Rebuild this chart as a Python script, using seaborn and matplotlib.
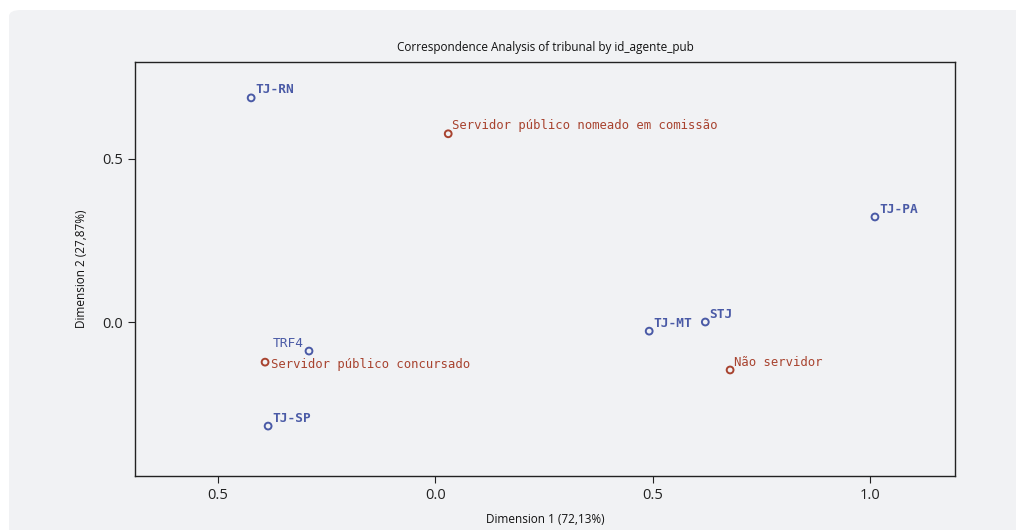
import matplotlib
matplotlib.use("Agg")
import matplotlib.pyplot as plt
import seaborn as sns
import pandas as pd
from matplotlib.patches import FancyBboxPatch

# Data
row_labels = ["TJ-RN", "TJ-PA", "TJ-MT", "STJ", "TRF4", "TJ-SP"]
row_dim1 = [-0.423, 1.011, 0.492, 0.621, -0.290, -0.384]
row_dim2 = [0.687, 0.322, -0.028, 0.000, -0.089, -0.319]

col_labels = ["Servidor público nomeado em comissão", "Não servidor", "Servidor público concursado"]
col_dim1 = [0.030, 0.678, -0.391]
col_dim2 = [0.577, -0.147, -0.123]

x_ticks = [-0.5, 0.0, 0.5, 1.0]
x_tick_labels = ["0.5", "0.0", "0.5", "1.0"]
y_ticks = [0.0, 0.5]
y_tick_labels = ["0.0", "0.5"]

BG = "#f1f2f4"
BLUE = "#4a5aa6"
RED = "#a8432f"
MONO = "DejaVu Sans Mono"

sns.set_theme(style="white")
plt.rcParams["font.family"] = ["Open Sans", "DejaVu Sans"]

df = pd.concat([
    pd.DataFrame({"label": row_labels, "d1": row_dim1, "d2": row_dim2, "kind": "row"}),
    pd.DataFrame({"label": col_labels, "d1": col_dim1, "d2": col_dim2, "kind": "col"}),
], ignore_index=True)

fig = plt.figure(figsize=(10.16, 5.30), dpi=100, facecolor="white")
panel = FancyBboxPatch((9 / 1016, -0.05), 1.2, 1 - 10 / 530 + 0.05,
                       boxstyle="round,pad=0,rounding_size=0.012",
                       transform=fig.transFigure, facecolor=BG, edgecolor="none", zorder=-10)
fig.patches.append(panel)

ax = fig.add_axes([135 / 1016, 1 - 476 / 530, (955 - 135) / 1016, (476 - 62) / 530])
ax.set_facecolor(BG)

sns.scatterplot(data=df, x="d1", y="d2", hue="kind", palette={"row": BLUE, "col": RED},
                marker="o", s=24, linewidth=1.4, legend=False, ax=ax)
for coll in ax.collections:
    fc = coll.get_facecolors()
    coll.set_edgecolors(fc)
    coll.set_facecolors("none")

ax.set_xlim(-0.69, 1.195)
ax.set_ylim(-0.472, 0.797)

for lab, x, y in zip(row_labels, row_dim1, row_dim2):
    if lab == "TRF4":
        ax.annotate(lab, (x, y), xytext=(-4, 1), textcoords="offset points", ha="right",
                    fontsize=9.3, color=BLUE, fontfamily=MONO, va="bottom")
    else:
        ax.annotate(lab, (x, y), xytext=(3, 1), textcoords="offset points",
                    fontsize=9.3, color=BLUE, fontfamily=MONO, fontweight="bold", va="bottom")
for lab, x, y in zip(col_labels, col_dim1, col_dim2):
    if lab == "Servidor público concursado":
        ax.annotate(lab, (x, y), xytext=(4, -6.5), textcoords="offset points",
                    fontsize=8.8, color=RED, fontfamily=MONO, va="bottom")
    else:
        ax.annotate(lab, (x, y), xytext=(3, 1), textcoords="offset points",
                    fontsize=8.8, color=RED, fontfamily=MONO, va="bottom")

ax.set_xticks(x_ticks)
ax.set_xticklabels(x_tick_labels)
ax.set_yticks(y_ticks)
ax.set_yticklabels(y_tick_labels)
ax.tick_params(axis="both", which="both", length=5, width=0.8, color="#222222",
               labelsize=10.5, labelcolor="#222222", direction="out", bottom=True, left=True)
for sp in ax.spines.values():
    sp.set_color("#222222")
    sp.set_linewidth(1.0)

ax.set_xlabel("Dimension 1 (72,13%)", fontsize=8.5, color="#111111", labelpad=7)
ax.set_ylabel("Dimension 2 (27,87%)", fontsize=8.5, color="#111111", labelpad=10)
ax.set_title("Correspondence Analysis of tribunal by id_agente_pub", fontsize=8.5,
             color="#111111", pad=8)

fig.savefig("out.png", dpi=100, facecolor="white")
